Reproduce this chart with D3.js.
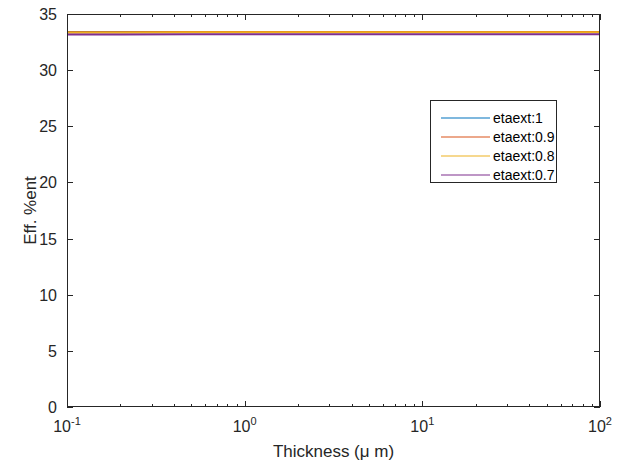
<!DOCTYPE html>
<html>
<head>
<meta charset="utf-8">
<script src="https://cdn.jsdelivr.net/npm/d3@7"></script>
<style>
  body { margin: 0; background: #fff; }
  svg { display: block; font-family: "Liberation Sans", Arial, sans-serif; }
</style>
</head>
<body>
<svg id="chart" width="621" height="462"></svg>
<script>
// Absorber thickness (µm), log-spaced samples
const thickness = [0.1, 0.2, 0.5, 1, 2, 5, 10, 20, 50, 100];
// Efficiency (%) for each external emission efficiency
const eff1  = [33.40, 33.40, 33.40, 33.40, 33.40, 33.40, 33.40, 33.40, 33.40, 33.40];
const eff09 = [33.38, 33.38, 33.39, 33.39, 33.39, 33.39, 33.39, 33.39, 33.39, 33.39];
const eff08 = [33.36, 33.36, 33.37, 33.37, 33.37, 33.37, 33.37, 33.37, 33.37, 33.37];
const eff07 = [33.18, 33.18, 33.19, 33.20, 33.20, 33.20, 33.20, 33.20, 33.20, 33.20];
const seriesNames = ["etaext:1", "etaext:0.9", "etaext:0.8", "etaext:0.7"];
const seriesColors = ["#0072BD", "#D95319", "#EDB120", "#7E2F8E"];
const yTicks = [0, 5, 10, 15, 20, 25, 30, 35];
const xTicks = [0.1, 1, 10, 100];
const xTickExp = ["-1", "0", "1", "2"];

const series = [eff1, eff09, eff08, eff07];

const svg = d3.select("#chart");
const m = { left: 67, right: 600, top: 14, bottom: 407 };

const x = d3.scaleLog().domain([0.1, 100]).range([m.left, m.right]);
const y = d3.scaleLinear().domain([0, 35]).range([m.bottom, m.top]);

const axisColor = "#262626";
const g = svg.append("g");

// Minor ticks for the log axis
const minor = [];
for (let d = 0.1; d < 100; d *= 10) {
  for (let k = 2; k <= 9; k++) minor.push(d * k);
}

// Lines
const line = d3.line().x((d, i) => x(thickness[i])).y(d => y(d));
series.forEach((s, i) => {
  g.append("path")
    .datum(s)
    .attr("d", line)
    .attr("fill", "none")
    .attr("stroke", seriesColors[i])
    .attr("stroke-width", 2);
});

// Box frame
g.append("rect")
  .attr("x", m.left + 0.5).attr("y", m.top + 0.5)
  .attr("width", m.right - m.left - 1).attr("height", m.bottom - m.top - 1)
  .attr("fill", "none").attr("stroke", axisColor).attr("stroke-width", 1);

// Ticks (inward, both sides)
const tickG = g.append("g").attr("stroke", axisColor).attr("stroke-width", 1).attr("shape-rendering", "crispEdges");
xTicks.forEach(t => {
  const px = Math.round(x(t)) + 0.5;
  tickG.append("line").attr("x1", px).attr("x2", px).attr("y1", m.bottom).attr("y2", m.bottom - 6);
  tickG.append("line").attr("x1", px).attr("x2", px).attr("y1", m.top).attr("y2", m.top + 6);
});
minor.forEach(t => {
  const px = Math.round(x(t)) + 0.5;
  tickG.append("line").attr("x1", px).attr("x2", px).attr("y1", m.bottom).attr("y2", m.bottom - 3);
  tickG.append("line").attr("x1", px).attr("x2", px).attr("y1", m.top).attr("y2", m.top + 3);
});
yTicks.forEach(t => {
  const py = Math.round(y(t)) + 0.5;
  tickG.append("line").attr("x1", m.left).attr("x2", m.left + 6).attr("y1", py).attr("y2", py);
  tickG.append("line").attr("x1", m.right).attr("x2", m.right - 6).attr("y1", py).attr("y2", py);
});

// Y tick labels
yTicks.forEach(t => {
  g.append("text")
    .attr("x", m.left - 10).attr("y", y(t) + 6)
    .attr("text-anchor", "end")
    .attr("font-size", 16).attr("fill", axisColor)
    .text(t);
});

// X tick labels: 10 with superscript exponent
xTicks.forEach((t, i) => {
  const txt = g.append("text")
    .attr("x", x(t)).attr("y", 432)
    .attr("text-anchor", "middle")
    .attr("font-size", 16).attr("fill", axisColor);
  txt.append("tspan").text("10");
  txt.append("tspan").attr("dy", -7).attr("font-size", 11).text(xTickExp[i]);
});

// Axis labels
g.append("text")
  .attr("x", (m.left + m.right) / 2).attr("y", 457)
  .attr("text-anchor", "middle").attr("font-size", 17).attr("fill", axisColor)
  .text("Thickness (\u03bc m)");

g.append("text")
  .attr("transform", `translate(36, ${(m.top + m.bottom) / 2}) rotate(-90)`)
  .attr("text-anchor", "middle").attr("font-size", 17).attr("fill", axisColor)
  .text("Eff. %ent");

// Legend
const lg = g.append("g");
lg.append("rect")
  .attr("x", 430.5).attr("y", 100.5).attr("width", 126).attr("height", 82)
  .attr("fill", "#fff").attr("stroke", axisColor).attr("stroke-width", 1);
seriesNames.forEach((name, i) => {
  const ly = 118 + i * 19;
  lg.append("line")
    .attr("x1", 441).attr("x2", 490).attr("y1", ly).attr("y2", ly)
    .attr("stroke", seriesColors[i]).attr("stroke-width", 1.2);
  lg.append("text")
    .attr("x", 493).attr("y", ly + 5)
    .attr("font-size", 14).attr("fill", "#000")
    .text(name);
});
</script>
</body>
</html>
